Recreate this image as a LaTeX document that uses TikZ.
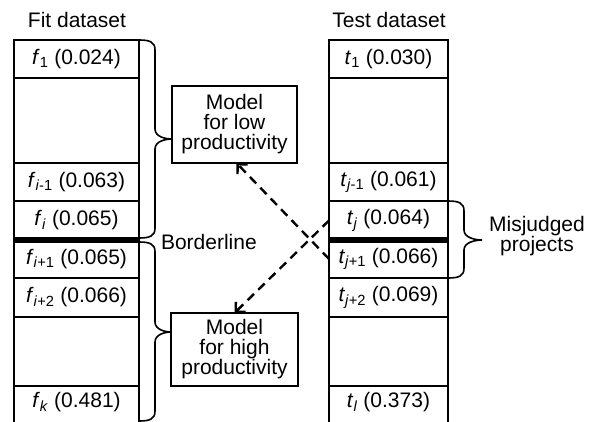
\documentclass[tikz,border=0pt]{standalone}
\usepackage{fontspec}
\setmainfont{Liberation Sans}
\usetikzlibrary{arrows.meta}
\begin{document}
\begin{tikzpicture}[x=1pt,y=-1pt,
  every node/.style={font=\fontsize{21}{20}\selectfont, inner sep=0pt, outer sep=0pt},
  fcell/.style={draw, line width=2.3pt, minimum width=125pt, minimum height=#1, anchor=north west},
  tcell/.style={draw, line width=2.3pt, minimum width=119pt, minimum height=#1, anchor=north west},
  opencell/.style={minimum height=#1, anchor=north west},
  modelbox/.style={draw, line width=2pt, align=center},
  bracket/.style={line width=1.6pt},
  dasharrow/.style={line width=2.4pt, dash pattern=on 9pt off 6pt, -{Straight Barb[length=7pt,width=14pt]}},
  sepline/.style={line width=6pt}]
\useasboundingbox (0,0) rectangle (597,421);
% Fit dataset column
\node (fittitle) at (77,20) {Fit dataset};
\node[fcell=38pt] (fa) at (14,40) {\textit{f}\textsubscript{1} (0.024)};
\node[fcell=85pt] (fb) at (14,78) {};
\node[fcell=38pt] (fc) at (14,163) {\textit{f}\textsubscript{\textit{i}-1} (0.063)};
\node[fcell=39pt] (fd) at (14,201) {\textit{f}\textsubscript{\textit{i}} (0.065)};
\node[fcell=38pt] (fe) at (14,240) {\textit{f}\textsubscript{\textit{i}+1} (0.065)};
\node[fcell=39pt] (ff) at (14,278) {\textit{f}\textsubscript{\textit{i}+2} (0.066)};
\node[fcell=69pt] (fg) at (14,317) {};
\node[opencell=33pt, minimum width=125pt] (fh) at (14,386) {\textit{f}\textsubscript{\textit{k}} (0.481)};
\draw[line width=2.3pt] (fh.north west) -- ++(0,37) (fh.north east) -- ++(0,37);
\draw[sepline] (fd.south west) -- (fd.south east);
% Test dataset column
\node (testtitle) at (389,20) {Test dataset};
\node[tcell=38pt] (ta) at (329,40) {\textit{t}\textsubscript{1} (0.030)};
\node[tcell=85pt] (tb) at (329,78) {};
\node[tcell=38pt] (tc) at (329,163) {\textit{t}\textsubscript{\textit{j}-1} (0.061)};
\node[tcell=39pt] (td) at (329,201) {\textit{t}\textsubscript{\textit{j}} (0.064)};
\node[tcell=38pt] (te) at (329,240) {\textit{t}\textsubscript{\textit{j}+1} (0.066)};
\node[tcell=39pt] (tf) at (329,278) {\textit{t}\textsubscript{\textit{j}+2} (0.069)};
\node[tcell=69pt] (tg) at (329,317) {};
\node[opencell=33pt, minimum width=119pt] (th) at (329,386) {\textit{t}\textsubscript{\textit{l}} (0.373)};
\draw[line width=2.3pt] (th.north west) -- ++(0,37) (th.north east) -- ++(0,37);
\draw[sepline] (td.south west) -- (td.south east);
% Model boxes
\node[modelbox, minimum width=125pt, minimum height=77pt] (low) at (234.5,124.5) {Model\\for low\\productivity};
\node[modelbox, minimum width=127pt, minimum height=73pt] (high) at (234.5,349.5) {Model\\for high\\productivity};
% Braces
\draw[bracket] (139,40) .. controls (150,40) and (155,42) .. (155,50) -- (155,129)
  .. controls (155,137) and (166,139) .. (172,139) .. controls (166,139) and (155,141) .. (155,149)
  -- (155,228) .. controls (155,236) and (150,238) .. (139,238);
\draw[bracket] (139,242) .. controls (150,242) and (155,244) .. (155,252) -- (155,322)
  .. controls (155,330) and (166,332) .. (171,332) .. controls (166,332) and (155,334) .. (155,342)
  -- (155,411) .. controls (155,419) and (150,421) .. (139,421);
\draw[bracket] (448,201) .. controls (459,201) and (464,203) .. (464,211) -- (464,230)
  .. controls (464,238) and (476,240) .. (482,240) .. controls (476,240) and (464,242) .. (464,250)
  -- (464,268) .. controls (464,276) and (459,278) .. (448,278);
% Labels
\node[anchor=west] (border) at (161,242) {Borderline};
\node[align=center] (misj) at (537,236) {Misjudged\\projects};
% Arrows
\draw[dasharrow] (te.west) -- ([xshift=2pt]low.south);
\draw[dasharrow] (td.west) -- (high.north);
\end{tikzpicture}
\end{document}
